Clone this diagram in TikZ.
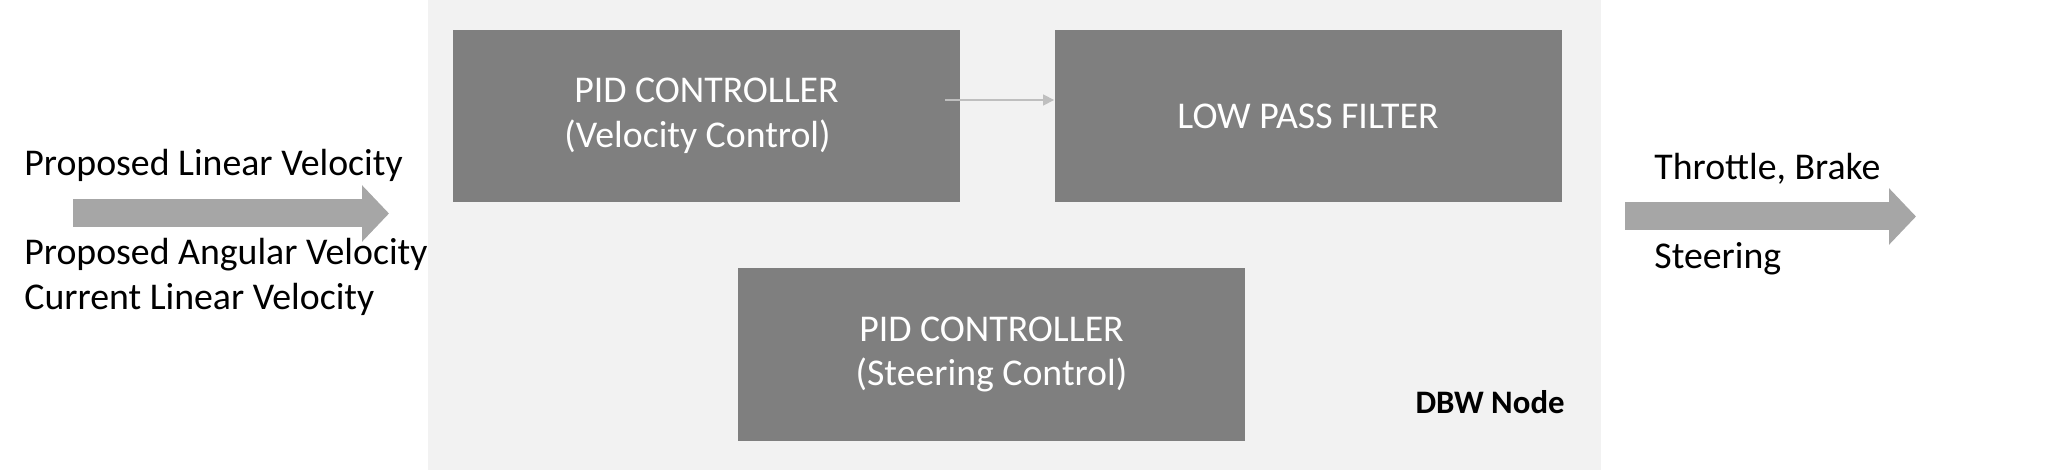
\documentclass[tikz,border=0pt]{standalone}
\usepackage{fontspec}
\setmainfont{Carlito}
\usetikzlibrary{arrows.meta}
\definecolor{nodebg}{HTML}{F2F2F2}
\definecolor{boxgray}{HTML}{7F7F7F}
\definecolor{flowgray}{HTML}{A6A6A6}
\definecolor{linkgray}{HTML}{BFBFBF}
\tikzset{
  ctrlbox/.style={fill=boxgray, text=white, minimum width=253.5pt, minimum height=86pt,
    align=center, font=\fontsize{18.9}{22.4}\selectfont},
  sigtext/.style={inner sep=0pt, font=\fontsize{18.9}{22.4}\selectfont},
  flowarrow/.style={draw=flowgray, line width=14pt, -{Triangle[length=13.5pt, width=27.5pt, fill=flowgray]}},
  linkarrow/.style={draw=linkgray, line width=0.6pt, -{Triangle[length=5.5pt, width=5.5pt, fill=linkgray]}}
}
\begin{document}
\begin{tikzpicture}[x=0.5pt, y=-0.5pt]
        %% picture size, one unit is one pixel of the original
        \useasboundingbox (0,0) rectangle (2067,470);
        %% the grey area of the DBW node
        \fill[nodebg] (428,0) rectangle (1601,470);
        \node[anchor=base east, inner sep=0pt, font=\fontsize{16.4}{19}\selectfont\bfseries] (dbw) at (1565,413) {DBW Node};
        %% the three blocks
        \node[ctrlbox] (velpid) at (706.5,116) {PID CONTROLLER\\(Velocity Control)\hspace*{9pt}};
        \node[ctrlbox] (lowpass) at (1308,116) {LOW PASS FILTER};
        \node[ctrlbox] (steerpid) at (991.5,354.5) {PID CONTROLLER\\(Steering Control)};
        \draw[linkarrow] ([xshift=-7.5pt, yshift=8pt]velpid.east) -- ([yshift=8pt]lowpass.west);
        %% inputs
        \node[sigtext, anchor=base west] (inlin) at (24,176) {Proposed Linear Velocity};
        \node[sigtext, anchor=base west] (inang) at (24,265) {Proposed Angular Velocity};
        \node[sigtext, anchor=base west] (incur) at (24,310) {Current Linear Velocity};
        \coordinate (instart) at (73,213.5);
        \coordinate (inend) at (389,213.5);
        \draw[flowarrow] (instart) -- (inend);
        %% outputs
        \node[sigtext, anchor=base west] (outthr) at (1654,180) {Throttle, Brake};
        \node[sigtext, anchor=base west] (outste) at (1654,269) {Steering};
        \coordinate (outstart) at (1625,216.5);
        \coordinate (outend) at (1916,216.5);
        \draw[flowarrow] (outstart) -- (outend);
    \end{tikzpicture}
\end{document}
